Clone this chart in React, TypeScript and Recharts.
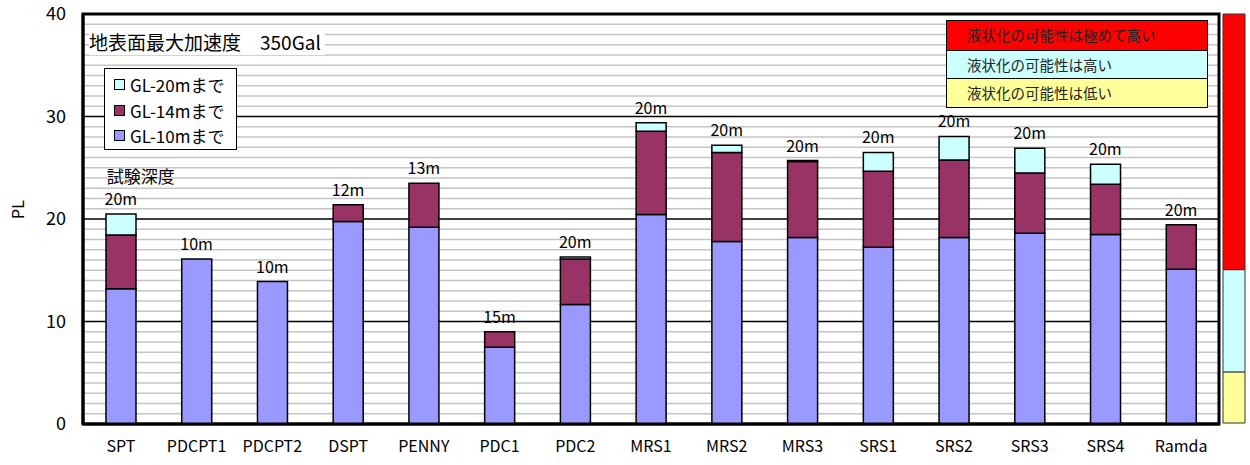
import { ComposedChart, BarChart, Bar, Line, XAxis, YAxis, ReferenceArea, CartesianGrid } from "recharts";

const FONT = "'Noto Sans CJK JP', 'Noto Sans', sans-serif";

const SITES = ["SPT", "PDCPT1", "PDCPT2", "DSPT", "PENNY", "PDC1", "PDC2", "MRS1", "MRS2", "MRS3", "SRS1", "SRS2", "SRS3", "SRS4", "Ramda"];
// cumulative PL down to each depth
const PL_GL10 = [13.2, 16.1, 13.9, 19.75, 19.2, 7.5, 11.65, 20.45, 17.8, 18.2, 17.25, 18.2, 18.6, 18.5, 15.1];
const PL_GL14 = [18.45, 16.1, 13.9, 21.4, 23.5, 9.0, 16.1, 28.55, 26.5, 25.6, 24.65, 25.75, 24.5, 23.4, 19.45];
const PL_GL20 = [20.5, 16.1, 13.9, 21.4, 23.5, 9.0, 16.3, 29.4, 27.2, 25.7, 26.5, 28.05, 26.9, 25.35, 19.45];
const DEPTHS = ["20m", "10m", "10m", "12m", "13m", "15m", "20m", "20m", "20m", "20m", "20m", "20m", "20m", "20m", "20m"];

const Y_TICKS = [0, 10, 20, 30, 40];
const MAJOR = [10, 20, 30];
const MINOR = [1, 2, 3, 4, 5, 6, 7, 8, 9, 11, 12, 13, 14, 15, 16, 17, 18, 19, 21, 22, 23, 24, 25, 26, 27, 28, 29, 31, 32, 33, 34, 35, 36, 37, 38, 39];
const BOUNDARIES = [1, 2, 3, 4, 5, 6, 7, 8, 9, 10, 11, 12, 13, 14];

// risk bands: low < 5, high 5-15, very high > 15
const RISK_LOW = 5;
const RISK_HIGH = 15;
const RISK_MAX = 40;

const COLORS = { gl10: "#9999FF", gl14: "#993366", gl20: "#CCFFFF", red: "#FF0000", yellow: "#FFFF99" };

const rows = SITES.map((s, i) => ({
  name: s,
  gl10: PL_GL10[i],
  gl14: +(PL_GL14[i] - PL_GL10[i]).toFixed(2),
  gl20: +(PL_GL20[i] - PL_GL14[i]).toFixed(2),
  total: PL_GL20[i],
  depth: DEPTHS[i],
}));

const riskRow = [{ name: "risk", low: RISK_LOW, high: RISK_HIGH - RISK_LOW, vhigh: RISK_MAX - RISK_HIGH }];

function DepthLabel(props: any) {
  const { x, y, index } = props;
  return (
    <g>
      {index === 0 && (
        <text x={x - 14} y={y - 31} fontSize={17} fill="#000" fontFamily={FONT}>試験深度</text>
      )}
      <text x={x} y={y - 9} fontSize={16} fill="#000" textAnchor="middle" fontFamily={FONT}>{DEPTHS[index]}</text>
    </g>
  );
}

const legendItems = [
  { label: "GL-20mまで", color: COLORS.gl20 },
  { label: "GL-14mまで", color: COLORS.gl14 },
  { label: "GL-10mまで", color: COLORS.gl10 },
];

const riskItems = [
  { label: "液状化の可能性は極めて高い", color: COLORS.red },
  { label: "液状化の可能性は高い", color: COLORS.gl20 },
  { label: "液状化の可能性は低い", color: COLORS.yellow },
];

export default function App() {
  return (
    <div style={{ position: "relative", width: 1250, height: 465, background: "#fff", fontFamily: FONT }}>
      <style>{`body{margin:0}`}</style>
      <ComposedChart width={1250} height={465} data={rows} margin={{ top: 14, right: 31, left: 0, bottom: 0 }} barCategoryGap={0}>
        <CartesianGrid vertical={false} horizontalValues={MINOR} stroke="#c4c4c4" strokeWidth={1.5} />
        <CartesianGrid vertical={false} horizontalValues={MAJOR} stroke="#000" strokeWidth={1.5} />
        <XAxis
          xAxisId="bounds"
          type="number"
          domain={[0, 15]}
          ticks={BOUNDARIES}
          tick={false}
          axisLine={false}
          tickLine={{ stroke: "#000", strokeWidth: 1.5 }}
          tickSize={5}
          mirror
          height={1}
        />
        <XAxis
          dataKey="name"
          tickLine={false}
          axisLine={{ stroke: "#000", strokeWidth: 3 }}
          tick={{ fontSize: 16, fill: "#000", fontFamily: FONT }}
          tickSize={0}
          tickMargin={17}
          height={41}
          interval={0}
        />
        <YAxis
          domain={[0, 40]}
          ticks={Y_TICKS}
          tickLine={false}
          axisLine={{ stroke: "#000", strokeWidth: 3 }}
          tick={{ fontSize: 18, fill: "#000", fontFamily: FONT }}
          tickSize={0}
          tickMargin={17}
          width={83}
          interval={0}
          label={{ value: "PL", angle: -90, position: "insideLeft", offset: 18, style: { fontSize: 16, fill: "#000", fontFamily: FONT } }}
        />
        <Bar dataKey="gl10" stackId="pl" fill={COLORS.gl10} stroke="#000" strokeWidth={1.5} barSize={30} isAnimationActive={false} />
        <Bar dataKey="gl14" stackId="pl" fill={COLORS.gl14} stroke="#000" strokeWidth={1.5} barSize={30} isAnimationActive={false} />
        <Bar dataKey="gl20" stackId="pl" fill={COLORS.gl20} stroke="#000" strokeWidth={1.5} barSize={30} isAnimationActive={false} />
        <Line dataKey="total" stroke="none" dot={false} activeDot={false} isAnimationActive={false} label={<DepthLabel />} />
        <ReferenceArea y1={0} y2={40} fill="none" stroke="#000" strokeWidth={3} ifOverflow="visible" />
      </ComposedChart>

      {/* liquefaction risk scale at the right edge */}
      <div style={{ position: "absolute", left: 1221, top: 0 }}>
        <BarChart width={27} height={465} data={riskRow} margin={{ top: 14, right: 2, left: 0, bottom: 42 }} barCategoryGap={0}>
          <XAxis dataKey="name" hide />
          <YAxis domain={[0, RISK_MAX]} hide />
          <Bar dataKey="low" stackId="r" fill={COLORS.yellow} stroke="#333" strokeWidth={1} barSize={22} isAnimationActive={false} />
          <Bar dataKey="high" stackId="r" fill={COLORS.gl20} stroke="#333" strokeWidth={1} barSize={22} isAnimationActive={false} />
          <Bar dataKey="vhigh" stackId="r" fill={COLORS.red} stroke="#333" strokeWidth={1} barSize={22} isAnimationActive={false} />
        </BarChart>
      </div>

      <div style={{ position: "absolute", left: 89, top: 29, fontSize: 19, lineHeight: "26px", background: "#fff", paddingRight: 4 }}>
        地表面最大加速度　350Gal
      </div>

      <div style={{ position: "absolute", left: 104, top: 68, width: 133, height: 82, border: "1.5px solid #000", background: "#fff", boxSizing: "border-box", padding: "3px 0 0 9px" }}>
        {legendItems.map((it) => (
          <div key={it.label} style={{ display: "flex", alignItems: "center", height: 25.5, fontSize: 17 }}>
            <span style={{ width: 9, height: 9, background: it.color, border: "1px solid #000", marginRight: 5 }} />
            <span>{it.label}</span>
          </div>
        ))}
      </div>

      <div style={{ position: "absolute", left: 946, top: 20, width: 262, border: "1.5px solid #000", boxSizing: "border-box" }}>
        {riskItems.map((it, i) => (
          <div key={it.label} style={{ height: 28.5, background: it.color, borderTop: i ? "1px solid #000" : "none", fontSize: 14.5, lineHeight: "28px", paddingLeft: 20, color: "#222", boxSizing: "border-box" }}>
            {it.label}
          </div>
        ))}
      </div>
    </div>
  );
}
